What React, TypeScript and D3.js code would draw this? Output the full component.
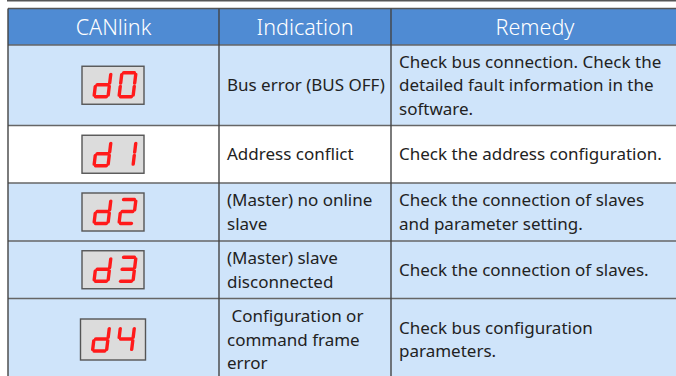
import React from "react";
import * as d3 from "d3";

// table content
const headers = ["CANlink", "Indication", "Remedy"];
const codes = ["d0", "d1", "d2", "d3", "d4"];
const indications = [
  ["Bus error (BUS OFF)"],
  ["Address conflict"],
  ["(Master) no online", "slave"],
  ["(Master) slave", "disconnected"],
  [" Configuration or", "command frame", "error"],
];
const remedies = [
  ["Check bus connection. Check the", "detailed fault information in the", "software."],
  ["Check the address configuration."],
  ["Check the connection of slaves", "and parameter setting."],
  ["Check the connection of slaves."],
  ["Check bus configuration", "parameters."],
];
const shaded = [true, false, true, true, true];

// seven segment map: a top, b upper right, c lower right, d bottom, e lower left, f upper left, g middle
const segMap: Record<string, string> = {
  d: "bcdeg",
  "0": "abcdef",
  "1": "bc",
  "2": "abged",
  "3": "abgcd",
  "4": "fgbc",
};

const W = 676;
const H = 376;
const colEdges = [8, 219, 391, 679];
const headerTop = 8.5;
const headerH = 36.5;
const rowHeights = [80.5, 57.5, 58, 57.5, 82];
const lineH = 23.7;

const font = "'Noto Sans', 'Open Sans', sans-serif";

const Segment: React.FC<{ ch: string; x: number; y: number }> = ({ ch, x, y }) => {
  const w = 14;
  const h = 24;
  const g = 1.6;
  const sx = d3.scaleLinear().domain([0, 1]).range([0, w]);
  const sy = d3.scaleLinear().domain([0, 1]).range([0, h]);
  const segs: Record<string, [number, number, number, number]> = {
    a: [sx(0) + g, sy(0), sx(1) - g, sy(0)],
    b: [sx(1), sy(0) + g, sx(1), sy(0.5) - g],
    c: [sx(1), sy(0.5) + g, sx(1), sy(1) - g],
    d: [sx(0) + g, sy(1), sx(1) - g, sy(1)],
    e: [sx(0), sy(0.5) + g, sx(0), sy(1) - g],
    f: [sx(0), sy(0) + g, sx(0), sy(0.5) - g],
    g: [sx(0) + g, sy(0.5), sx(1) - g, sy(0.5)],
  };
  const on = segMap[ch] || "";
  return (
    <g transform={`translate(${x},${y + h}) skewX(-7) translate(0,${-h})`}>
      {on.split("").map((s) => {
        const [x1, y1, x2, y2] = segs[s];
        return (
          <line
            key={s}
            x1={x1}
            y1={y1}
            x2={x2}
            y2={y2}
            stroke="#ff1a1a"
            strokeWidth={3.4}
            strokeLinecap="round"
          />
        );
      })}
    </g>
  );
};

export default function App() {
  const rowTops = [0, ...d3.cumsum(rowHeights)].map((v) => v + headerTop + headerH);
  const x = d3.scaleOrdinal<string, number>().domain(headers).range(colEdges);

  return (
    <svg
      width={W}
      height={H}
      style={{ position: "absolute", left: 0, top: 0, background: "#fff" }}
    >
      <line x1={7} x2={W} y1={0.5} y2={0.5} stroke="#555" strokeWidth={2} />

      {/* header */}
      <rect x={colEdges[0]} y={headerTop} width={colEdges[3] - colEdges[0]} height={headerH} fill="#4f8bd3" />
      {headers.map((hd, i) => (
        <text
          key={hd}
          x={(colEdges[i] + colEdges[i + 1]) / 2}
          y={headerTop + headerH / 2 + 8}
          textAnchor="middle"
          fill="#fff"
          fontFamily={font}
          fontSize={21.5}
          fontWeight={300}
        >
          {hd}
        </text>
      ))}

      {/* rows */}
      {codes.map((code, r) => {
        const top = rowTops[r];
        const hgt = rowHeights[r];
        const cy = top + hgt / 2;
        const big = r === codes.length - 1;
        const bw = big ? 65 : 62;
        const bh = big ? 41 : 38;
        const bx = (colEdges[0] + colEdges[1]) / 2 - bw / 2 - 0.5;
        const by = cy - bh / 2;
        const textLines = (lines: string[], x0: number) =>
          lines.map((ln, i) => (
            <text
              key={i}
              x={x0}
              y={cy + (i - (lines.length - 1) / 2) * lineH + 6}
              fill="#222"
              fontFamily={font}
              fontSize={17}
              style={{ whiteSpace: "pre" }}
            >
              {ln}
            </text>
          ));
        return (
          <g key={code}>
            <rect
              x={colEdges[0]}
              y={top}
              width={colEdges[3] - colEdges[0]}
              height={hgt}
              fill={shaded[r] ? "#cfe4fa" : "#ffffff"}
            />
            <rect x={bx} y={by} width={bw} height={bh} fill="#dcdcdc" stroke="#555" strokeWidth={1.4} />
            {code.split("").map((ch, k) => (
              <Segment key={k} ch={ch} x={bx + 12 + k * 25} y={cy - 12.5} />
            ))}
            {textLines(indications[r], colEdges[1] + 8)}
            {textLines(remedies[r], colEdges[2] + 8)}
          </g>
        );
      })}

      {/* grid lines */}
      {rowTops.map((y, i) => (
        <line key={i} x1={colEdges[0]} x2={colEdges[3]} y1={y} y2={y} stroke="#666" strokeWidth={1.4} />
      ))}
      <line x1={colEdges[0]} x2={colEdges[3]} y1={headerTop} y2={headerTop} stroke="#555" strokeWidth={1.4} />
      {colEdges.slice(0, 3).map((cx, i) => (
        <line
          key={headers[i]}
          x1={x(headers[i])}
          x2={cx}
          y1={headerTop}
          y2={rowTops[rowTops.length - 1]}
          stroke="#444"
          strokeWidth={1.4}
        />
      ))}
    </svg>
  );
}
